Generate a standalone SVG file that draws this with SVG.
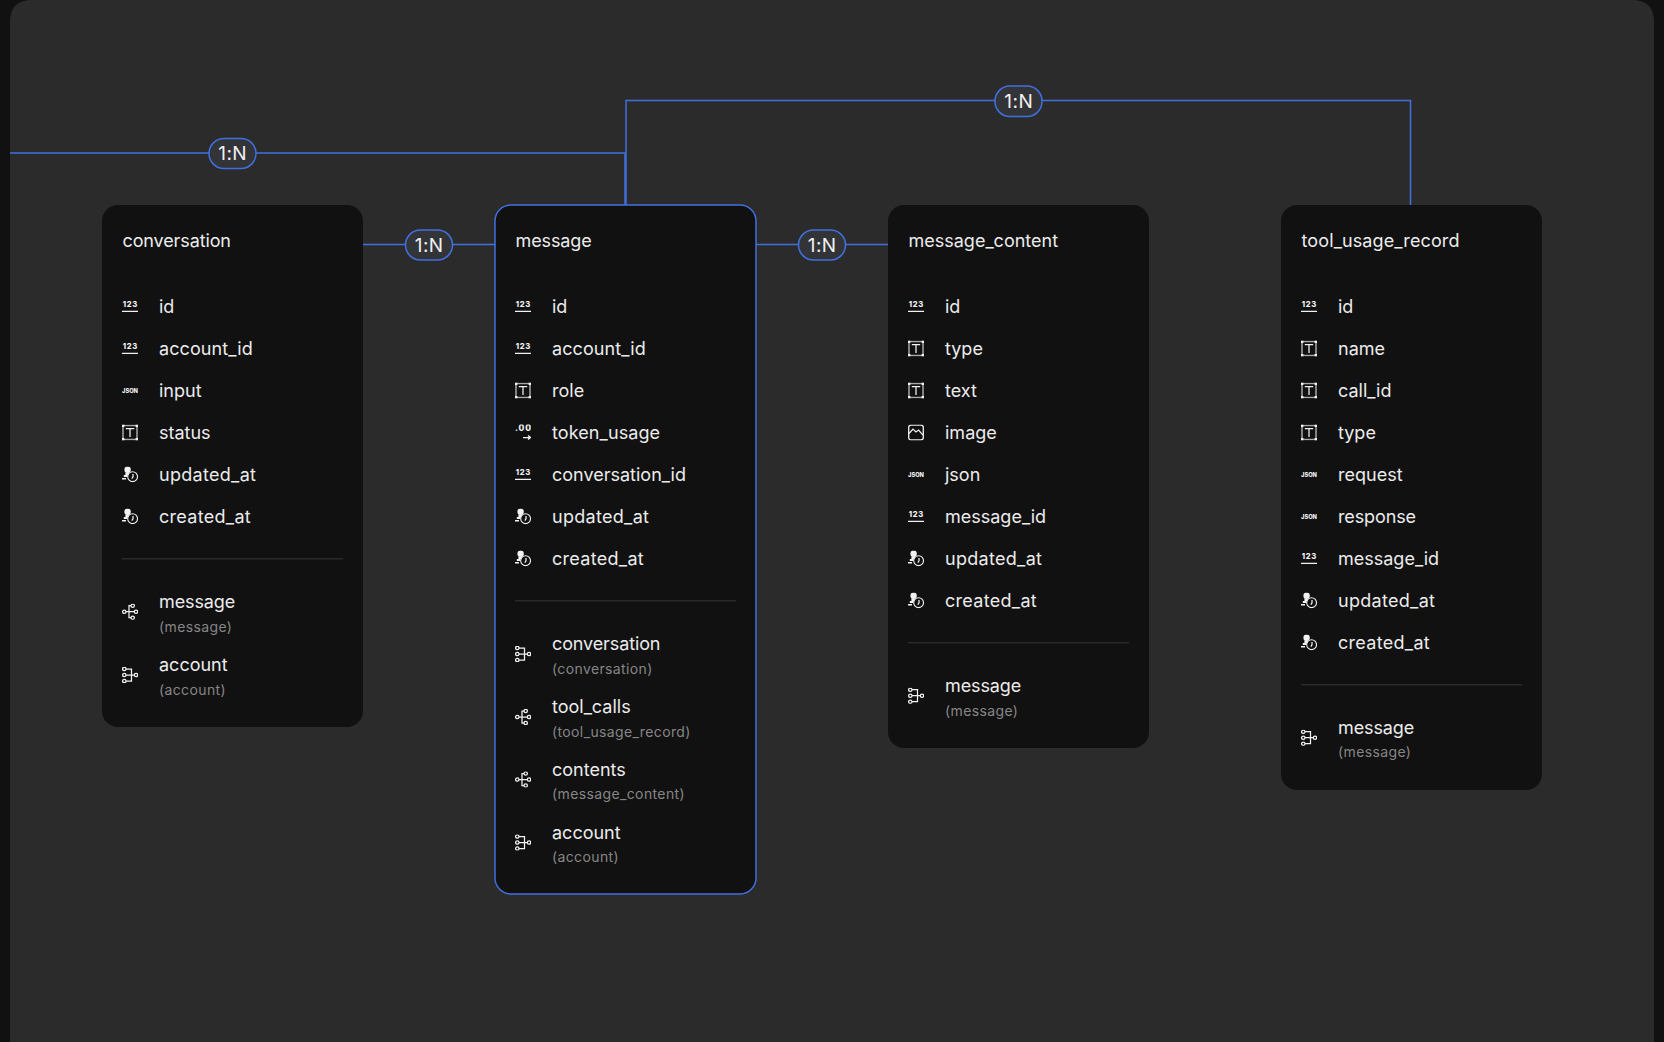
<svg xmlns="http://www.w3.org/2000/svg" width="1664" height="1042" viewBox="0 0 1664 1042">
<style>
text{font-family:Inter,"Liberation Sans",sans-serif}
.card{fill:#111111}
.sel{stroke:#4070e0;stroke-width:1.5}
.t{font-size:18px;fill:#ececec}
.f{font-size:18px;fill:#ececec}
.w{letter-spacing:.3px}
.n{letter-spacing:-.12px}
.s{font-size:14px;fill:#868686;letter-spacing:.38px}
.d{fill:#2a2a2a}
.c{fill:none;stroke:#4070e0;stroke-width:1.5}
.p{fill:#333438;stroke:#4070e0;stroke-width:1.5}
.l{font-size:19px;fill:#f0f0f0;text-anchor:middle;letter-spacing:.5px}
.i{fill:none;stroke:#f2f2f2;stroke-width:1.25}
.b{fill:#f2f2f2;font-weight:800}
</style>
<defs>
<symbol id="num" viewBox="0 0 16 16" width="16" height="16"><text class="b" x="8" y="8.8" font-size="7.6" text-anchor="middle" textLength="14.5">123</text><path d="M0 12.8H16" class="i"/></symbol>
<symbol id="json" viewBox="0 0 16 16" width="16" height="16"><text class="b" x="0" y="10.2" font-size="6.2" textLength="16" lengthAdjust="spacingAndGlyphs">JSON</text></symbol>
<symbol id="txt" viewBox="0 0 16 16" width="16" height="16"><rect x="1" y="1" width="14" height="14" fill="none" stroke="#a8a8a8" stroke-width="1.5"/><path d="M3.8 4.2H12.2M8 4.2V12.4" class="i" stroke-width="1.5"/><path d="M0 0h2.4v2.4H0zM13.6 0h2.4v2.4h-2.4zM0 13.6h2.4v2.4H0zM13.6 13.6h2.4v2.4h-2.4z" fill="#f2f2f2"/></symbol>
<symbol id="dec" viewBox="0 0 16 16" width="16" height="16"><text class="b" x="0" y="6.7" font-size="8.4" textLength="16">.00</text><path d="M8 13H15M13 11L15.5 13L13 15" class="i"/></symbol>
<symbol id="time" viewBox="0 0 16 16" width="16" height="16"><circle cx="5.6" cy="3.2" r="3.2" fill="#f2f2f2"/><path d="M3.4 6h3.6v2.4H3.4zM1.8 8.6h3.8v1.8H1.8zM0 11.6h4v1.4H0z" fill="#f2f2f2"/><circle cx="10.6" cy="10.2" r="4.9" fill="#111111" stroke="#f2f2f2" stroke-width="1.1"/><path d="M11 7.6V10.4L9.8 12" class="i" stroke-width="1"/></symbol>
<symbol id="img" viewBox="0 0 16 16" width="16" height="16"><rect x=".7" y=".7" width="14.6" height="14.6" rx="2.4" fill="none" stroke="#f2f2f2" stroke-width="1.3"/><path d="M1 9L5 4.6L8 7.4L10.6 5.6L15 10.6" class="i"/></symbol>
<symbol id="om" viewBox="0 0 16 16" width="16" height="16"><g class="i"><circle cx="2.3" cy="8" r="1.7"/><circle cx="10.7" cy="2" r="1.7"/><circle cx="14" cy="8" r="1.7"/><circle cx="10.7" cy="14" r="1.7"/><path d="M4 8H12.3M7 8V2H9M7 8V14H9"/></g></symbol>
<symbol id="mo" viewBox="0 0 16 16" width="16" height="16"><g class="i"><circle cx="2.3" cy="2" r="1.7"/><circle cx="2.3" cy="8" r="1.7"/><circle cx="2.3" cy="14" r="1.7"/><circle cx="14" cy="8" r="1.7"/><path d="M4 2H9.5V14H4M4 8H12.3"/></g></symbol>
</defs>

<rect width="1664" height="1042" fill="#111111"/>
<path id="canvas" d="M10 1042V22Q10 0 32 0H1632Q1654 0 1654 22V1042Z" fill="#2b2b2b"/>

<g id="connectors">
<path class="c" d="M10 153H625V205"/>
<path class="c" d="M626 205V100.5H1410.5V205"/>
<path class="c" d="M363 244.5H495"/>
<path class="c" d="M756 244.5H888"/>
<rect class="p" x="209" y="138.5" width="47" height="30" rx="15"/><text class="l" x="232.7" y="160">1:N</text>
<rect class="p" x="405.5" y="230" width="47" height="30" rx="15"/><text class="l" x="429.2" y="251.5">1:N</text>
<rect class="p" x="798.5" y="230" width="47" height="30" rx="15"/><text class="l" x="822.2" y="251.5">1:N</text>
<rect class="p" x="995" y="86" width="47" height="30.5" rx="15"/><text class="l" x="1018.8" y="107.5">1:N</text>
</g>

<g id="conversation" transform="translate(102 0)">
<rect class="card" x="0" y="205" width="261" height="522" rx="16"/>
<text class="t n" x="20.5" y="247">conversation</text>
<use href="#num" x="20" y="298.5"/><text class="f" x="57" y="313">id</text>
<use href="#num" x="20" y="340.5"/><text class="f" x="57" y="355" letter-spacing=".1">account_id</text>
<use href="#json" x="20" y="382.5"/><text class="f" x="57" y="397">input</text>
<use href="#txt" x="20" y="424.5"/><text class="f" x="57" y="439">status</text>
<use href="#time" x="20" y="466.5"/><text class="f w" x="57" y="481">updated_at</text>
<use href="#time" x="20" y="508.5"/><text class="f w" x="57" y="523">created_at</text>
<rect class="d" x="20" y="558" width="221" height="1.5"/>
<use href="#om" x="20" y="603.7"/><text class="f n" x="57" y="608">message</text><text class="s" x="57" y="632">(message)</text>
<use href="#mo" x="20" y="667"/><text class="f" x="57" y="671">account</text><text class="s" x="57" y="695">(account)</text>
</g>

<g id="message" transform="translate(495 0)">
<rect class="card sel" x="0" y="205" width="261" height="689" rx="16"/>
<text class="t n" x="20.5" y="247">message</text>
<use href="#num" x="20" y="298.5"/><text class="f" x="57" y="313">id</text>
<use href="#num" x="20" y="340.5"/><text class="f" x="57" y="355" letter-spacing=".1">account_id</text>
<use href="#txt" x="20" y="382.5"/><text class="f" x="57" y="397">role</text>
<use href="#dec" x="20" y="424.5"/><text class="f" x="57" y="439" letter-spacing=".1">token_usage</text>
<use href="#num" x="20" y="466.5"/><text class="f" x="57" y="481">conversation_id</text>
<use href="#time" x="20" y="508.5"/><text class="f w" x="57" y="523">updated_at</text>
<use href="#time" x="20" y="550.5"/><text class="f w" x="57" y="565">created_at</text>
<rect class="d" x="20" y="600" width="221" height="1.5"/>
<use href="#mo" x="20" y="646"/><text class="f n" x="57" y="650">conversation</text><text class="s" x="57" y="674">(conversation)</text>
<use href="#om" x="20" y="709"/><text class="f" x="57" y="713">tool_calls</text><text class="s" x="57" y="737">(tool_usage_record)</text>
<use href="#om" x="20" y="771.5"/><text class="f" x="57" y="776">contents</text><text class="s" x="57" y="799">(message_content)</text>
<use href="#mo" x="20" y="834.5"/><text class="f" x="57" y="839">account</text><text class="s" x="57" y="862">(account)</text>
</g>

<g id="message_content" transform="translate(888 0)">
<rect class="card" x="0" y="205" width="261" height="543" rx="16"/>
<text class="t" x="20.5" y="247">message_content</text>
<use href="#num" x="20" y="298.5"/><text class="f" x="57" y="313">id</text>
<use href="#txt" x="20" y="340.5"/><text class="f" x="57" y="355">type</text>
<use href="#txt" x="20" y="382.5"/><text class="f" x="57" y="397">text</text>
<use href="#img" x="20" y="424.5"/><text class="f" x="57" y="439">image</text>
<use href="#json" x="20" y="466.5"/><text class="f" x="57" y="481">json</text>
<use href="#num" x="20" y="508.5"/><text class="f" x="57" y="523">message_id</text>
<use href="#time" x="20" y="550.5"/><text class="f w" x="57" y="565">updated_at</text>
<use href="#time" x="20" y="592.5"/><text class="f w" x="57" y="607">created_at</text>
<rect class="d" x="20" y="642" width="221" height="1.5"/>
<use href="#mo" x="20" y="687.7"/><text class="f n" x="57" y="692">message</text><text class="s" x="57" y="716">(message)</text>
</g>

<g id="tool_usage_record" transform="translate(1281 0)">
<rect class="card" x="0" y="205" width="261" height="585" rx="16"/>
<text class="t" x="20.5" y="247" letter-spacing=".12">tool_usage_record</text>
<use href="#num" x="20" y="298.5"/><text class="f" x="57" y="313">id</text>
<use href="#txt" x="20" y="340.5"/><text class="f" x="57" y="355">name</text>
<use href="#txt" x="20" y="382.5"/><text class="f" x="57" y="397">call_id</text>
<use href="#txt" x="20" y="424.5"/><text class="f" x="57" y="439">type</text>
<use href="#json" x="20" y="466.5"/><text class="f" x="57" y="481">request</text>
<use href="#json" x="20" y="508.5"/><text class="f n" x="57" y="523">response</text>
<use href="#num" x="20" y="550.5"/><text class="f" x="57" y="565">message_id</text>
<use href="#time" x="20" y="592.5"/><text class="f w" x="57" y="607">updated_at</text>
<use href="#time" x="20" y="634.5"/><text class="f w" x="57" y="649">created_at</text>
<rect class="d" x="20" y="684" width="221" height="1.5"/>
<use href="#mo" x="20" y="729.7"/><text class="f n" x="57" y="734">message</text><text class="s" x="57" y="757">(message)</text>
</g>
</svg>
